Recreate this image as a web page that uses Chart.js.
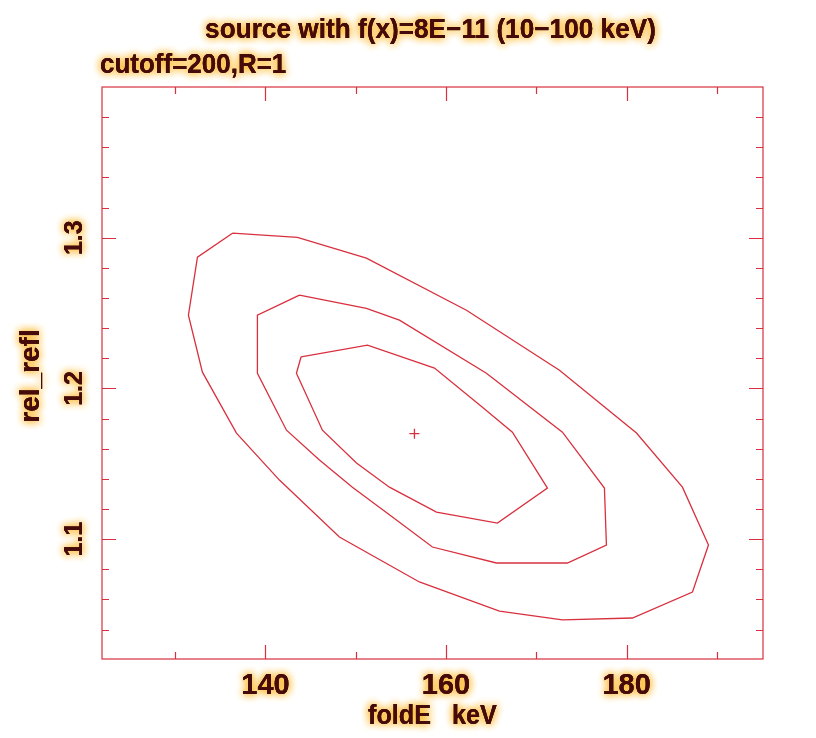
<!DOCTYPE html>
<html>
<head>
<meta charset="utf-8">
<script src="https://cdn.jsdelivr.net/npm/chart.js@4.4.1/dist/chart.umd.min.js"></script>
<style>
  html, body { margin: 0; padding: 0; background: #fff; }
  #wrap { width: 816px; height: 738px; }
</style>
</head>
<body>
<div id="wrap"><canvas id="contour" width="816" height="738"></canvas></div>
<script>
// ---- confidence contours: foldE (keV) vs rel_refl ----
const innerE = [143.95, 151.30, 158.72, 164.03, 167.35, 171.23, 165.69, 158.94, 153.73, 150.08, 146.31, 143.43, 143.95];
const innerR = [1.2210, 1.2287, 1.2135, 1.1876, 1.1710, 1.1339, 1.1107, 1.1180, 1.1345, 1.1505, 1.1723, 1.2101, 1.2210];

const middleE = [143.77, 151.18, 154.84, 164.47, 172.89, 177.54, 177.76, 173.44, 165.58, 158.49, 154.06, 149.63, 145.98, 142.33, 139.11, 139.11, 143.77];
const middleR = [1.2619, 1.2532, 1.2453, 1.2101, 1.1710, 1.1339, 1.0961, 1.0842, 1.0842, 1.0948, 1.1147, 1.1345, 1.1525, 1.1723, 1.2101, 1.2486, 1.2619];

const outerE = [136.35, 143.54, 151.18, 162.26, 172.56, 181.09, 186.18, 189.06, 187.29, 180.64, 172.89, 165.91, 157.05, 148.19, 141.55, 136.79, 133.02, 131.47, 132.47, 136.35];
const outerR = [1.3030, 1.3003, 1.2864, 1.2519, 1.2121, 1.1704, 1.1345, 1.0961, 1.0649, 1.0477, 1.0464, 1.0523, 1.0716, 1.1014, 1.1392, 1.1704, 1.2108, 1.2486, 1.2871, 1.3030];

// best fit
const bestE = [156.5];
const bestR = [1.170];

// ---- axes ----
const xRange = [121.9, 195.1];
const yRange = [1.0205, 1.40];
const xMajor = [140, 160, 180];
const xMinor = [130, 150, 170, 190];
const yMajor = [1.1, 1.2, 1.3];
const yMinor = [1.04, 1.06, 1.08, 1.12, 1.14, 1.16, 1.18, 1.22, 1.24, 1.26, 1.28, 1.32, 1.34, 1.36, 1.38];

const titleText = 'source with f(x)=8E\u221211 (10\u2212100 keV)';
const subText = 'cutoff=200,R=1';
const xTitle = 'foldE   keV';
const yTitle = 'rel_refl';

const red = '#d8303e';
const ink = '#450a0a';
const glow = 'rgba(250,175,20,1)';
const font = "'Liberation Sans', Arial, sans-serif";

const toPts = (xs, ys) => xs.map((v, i) => ({ x: v, y: ys[i] }));

// dark text with an orange halo; sx squeezes the glyphs sideways
const glowText = (ctx, str, px, py, size, align, sx = 1, rot = 0) => {
    ctx.save();
    ctx.translate(px, py);
    if (rot) ctx.rotate(rot);
    ctx.scale(sx, 1);
    ctx.font = `bold ${size}px ${font}`;
    ctx.textAlign = align;
    ctx.textBaseline = 'middle';
    ctx.fillStyle = ink;
    ctx.shadowColor = glow;
    ctx.shadowBlur = 8;
    ctx.fillText(str, 0, 0);
    ctx.fillText(str, 0, 0);
    ctx.shadowBlur = 0;
    ctx.fillText(str, 0, 0);
    ctx.restore();
};

// frame, inward ticks on all four sides, labels
const axisFrame = {
    id: 'axisFrame',
    afterDraw(chart) {
        const { ctx, chartArea: a, scales: { x, y } } = chart;
        ctx.save();
        ctx.strokeStyle = red;
        ctx.lineWidth = 1.2;
        ctx.strokeRect(a.left, a.top, a.right - a.left, a.bottom - a.top);

        ctx.beginPath();
        const xt = (vals, len) => vals.forEach(v => {
            const px = Math.round(x.getPixelForValue(v)) + 0.5;
            ctx.moveTo(px, a.bottom); ctx.lineTo(px, a.bottom - len);
            ctx.moveTo(px, a.top);    ctx.lineTo(px, a.top + len);
        });
        const yt = (vals, len) => vals.forEach(v => {
            const py = Math.round(y.getPixelForValue(v)) + 0.5;
            ctx.moveTo(a.left, py);  ctx.lineTo(a.left + len, py);
            ctx.moveTo(a.right, py); ctx.lineTo(a.right - len, py);
        });
        xt(xMajor, 14); xt(xMinor, 7);
        yt(yMajor, 14); yt(yMinor, 7);
        ctx.stroke();
        ctx.restore();

        const cx = (a.left + a.right) / 2;
        glowText(ctx, titleText, cx - 2, 30, 28, 'center', 0.936);
        glowText(ctx, subText, a.left - 2, 65, 28, 'left', 0.928);
        xMajor.forEach(v => glowText(ctx, String(v), x.getPixelForValue(v), 686, 29, 'center'));
        glowText(ctx, xTitle, cx, 716, 28, 'center', 0.9);
        yMajor.forEach(v => glowText(ctx, v.toFixed(1), 75, y.getPixelForValue(v), 25, 'center', 1, -Math.PI / 2));
        glowText(ctx, yTitle, 31, (a.top + a.bottom) / 2 + 3, 28, 'center', 1, -Math.PI / 2);
    }
};

const contourLine = (xs, ys) => ({
    data: toPts(xs, ys),
    showLine: true,
    borderColor: red,
    borderWidth: 1.3,
    pointRadius: 0,
    tension: 0
});

new Chart(document.getElementById('contour'), {
    type: 'scatter',
    data: {
        datasets: [
            contourLine(outerE, outerR),
            contourLine(middleE, middleR),
            contourLine(innerE, innerR),
            {
                data: toPts(bestE, bestR),
                pointStyle: 'cross', pointRadius: 5,
                borderColor: red, borderWidth: 1.3
            }
        ]
    },
    options: {
        responsive: false, animation: false,
        layout: { padding: { left: 102, top: 87, right: 53, bottom: 79 } },
        scales: {
            x: { type: 'linear', min: xRange[0], max: xRange[1], display: false },
            y: { type: 'linear', min: yRange[0], max: yRange[1], display: false }
        },
        plugins: { legend: { display: false }, tooltip: { enabled: false } }
    },
    plugins: [axisFrame]
});
</script>
</body>
</html>
